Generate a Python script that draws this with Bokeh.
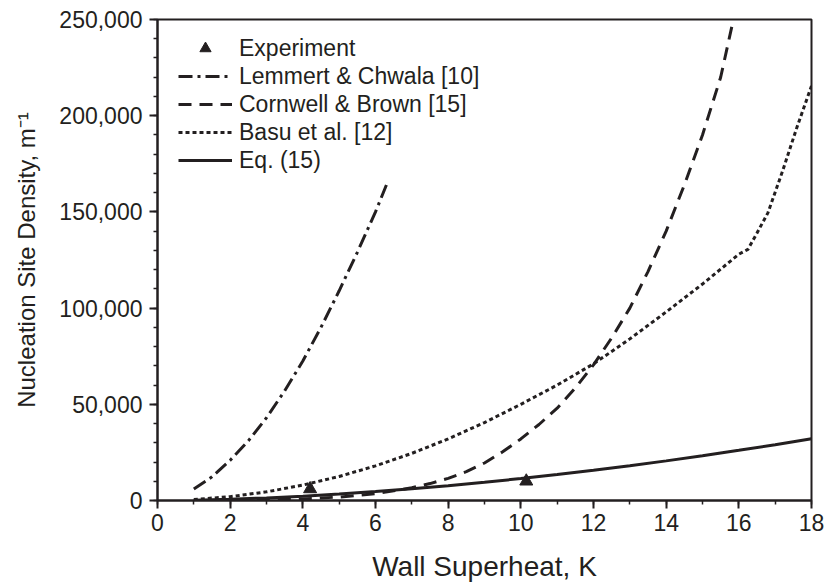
from bokeh.plotting import figure
from bokeh.models import Legend, LegendItem, NumeralTickFormatter, FixedTicker, Range1d
from bokeh.embed import file_html
from bokeh.resources import INLINE

# ---- data ----
exp_x = [4.2, 10.15]
exp_y = [6000, 10000]

lem_x = [1, 1.5, 2, 2.5, 3, 3.5, 4, 4.5, 5, 5.5, 6, 6.3]
lem_y = [6000, 12300, 20900, 31000, 43000, 57000, 72500, 90000, 109000, 129000, 150000, 164000]

corn_x = [1, 2, 3, 4, 5, 6, 7, 7.5, 8, 8.5, 9, 9.5, 10, 10.5, 11, 11.5, 12, 12.5, 13, 13.5,
          14, 14.5, 15, 15.5, 15.85]
corn_y = [10, 100, 350, 800, 1800, 3600, 6600, 8800, 11500, 15000, 19500, 25300, 32000, 39500,
          48000, 58500, 70500, 84500, 100000, 119000, 140000, 164000, 190000, 220000, 250000]

basu_x = [1, 2, 3, 4, 5, 6, 7, 8, 9, 10, 11, 12, 13, 14, 15, 16, 16.25, 16.5, 16.8, 17.2, 17.6, 18.0]
basu_y = [500, 2000, 4500, 8000, 12500, 18000, 24500, 32000, 40500, 50000, 60000, 71000, 84000,
          98000, 112500, 128000, 130500, 139000, 149500, 171000, 194000, 215500]

eq_x = [1, 2, 3, 4, 5, 6, 7, 8, 9, 10, 11, 12, 13, 14, 15, 16, 17, 18]
eq_y = [190, 660, 1350, 2250, 3340, 4620, 6080, 7710, 9500, 11400, 13500, 15700, 18100, 20600,
        23300, 26100, 29000, 32100]

x_ticks = [0, 2, 4, 6, 8, 10, 12, 14, 16, 18]
y_ticks = [0, 50000, 100000, 150000, 200000, 250000]

FONT = "Liberation Sans"
TXT = "#231f20"

p = figure(width=826, height=586, output_backend="svg", toolbar_location=None,
           x_range=Range1d(0, 18), y_range=Range1d(0, 250000),
           min_border_left=157, min_border_right=15, min_border_top=19, min_border_bottom=86)
p.background_fill_color = "white"
p.border_fill_color = "white"
p.grid.visible = False
p.outline_line_color = TXT
p.outline_line_width = 2

lw = 3
r_lem = p.line(lem_x, lem_y, line_color=TXT, line_width=lw, line_dash="14 5 3 5")
r_corn = p.line(corn_x, corn_y, line_color=TXT, line_width=lw, line_dash="13 8")
r_basu = p.line(basu_x, basu_y, line_color=TXT, line_width=lw, line_dash="4 3")
r_eq = p.line(eq_x, eq_y, line_color=TXT, line_width=lw)
r_exp = p.scatter(exp_x, exp_y, marker="triangle", size=13, fill_color=TXT, line_color=TXT)

for ax in (p.xaxis[0], p.yaxis[0]):
    ax.axis_line_color = TXT
    ax.axis_line_width = 2
    ax.major_tick_line_color = TXT
    ax.major_tick_line_width = 2
    ax.minor_tick_line_color = TXT
    ax.minor_tick_line_width = 1.5
    ax.major_tick_out = 8
    ax.major_tick_in = 0
    ax.minor_tick_out = 4
    ax.minor_tick_in = 0
    ax.major_label_text_font = FONT
    ax.major_label_text_font_size = "23px"
    ax.major_label_text_color = TXT
    ax.axis_label_text_font = FONT
    ax.axis_label_text_font_style = "normal"
    ax.axis_label_text_color = TXT

p.xaxis.ticker = FixedTicker(ticks=x_ticks, minor_ticks=list(range(0, 19)))
p.yaxis.ticker = FixedTicker(ticks=y_ticks, minor_ticks=list(range(0, 250001, 10000)))
p.yaxis.formatter = NumeralTickFormatter(format="0,0")

p.xaxis.axis_label = "Wall Superheat, K"
p.xaxis.axis_label_text_font_size = "28px"
p.xaxis.major_label_standoff = 5
p.xaxis.axis_label_standoff = 17

p.yaxis.axis_label = "Nucleation Site Density, m\u207b\u00b9"
p.yaxis.axis_label_text_font_size = "24px"
p.yaxis.major_label_standoff = 7
p.yaxis.axis_label_standoff = 16

legend = Legend(items=[
    LegendItem(label="Experiment", renderers=[r_exp]),
    LegendItem(label="Lemmert & Chwala [10]", renderers=[r_lem]),
    LegendItem(label="Cornwell & Brown [15]", renderers=[r_corn]),
    LegendItem(label="Basu et al. [12]", renderers=[r_basu]),
    LegendItem(label="Eq. (15)", renderers=[r_eq]),
], location=(21, 326))
legend.border_line_alpha = 0
legend.background_fill_alpha = 0
legend.padding = 0
legend.margin = 0
legend.spacing = 0
legend.glyph_width = 54
legend.glyph_height = 28
legend.label_height = 28
legend.label_standoff = 7
legend.label_text_font = FONT
legend.label_text_font_size = "23px"
legend.label_text_color = TXT
p.add_layout(legend)

open("out.html", "w").write(file_html(p, INLINE))
